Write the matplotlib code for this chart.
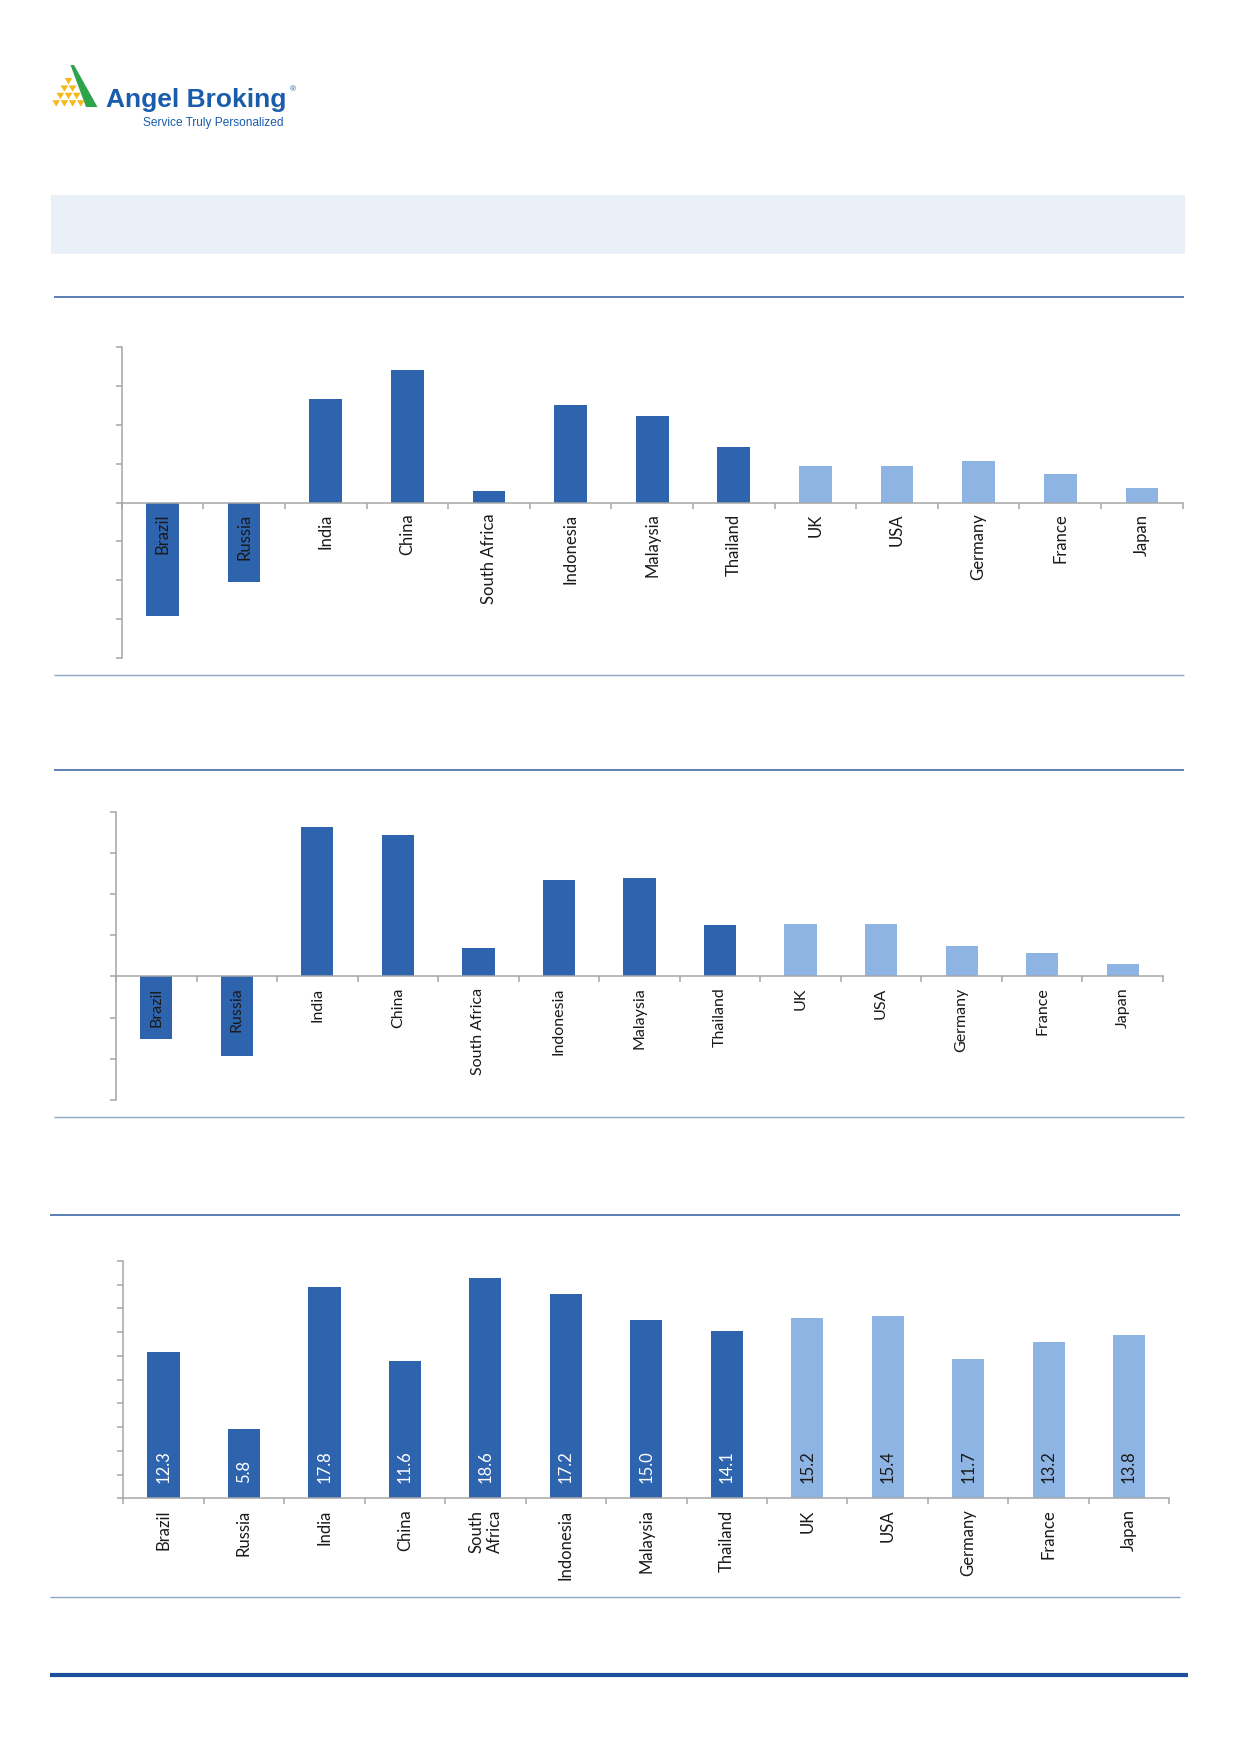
import matplotlib
matplotlib.use("Agg")
import matplotlib.pyplot as plt
import numpy as np
from matplotlib.patches import Polygon, Rectangle

plt.rcParams["font.family"] = ["Lato", "DejaVu Sans"]

# ---- data ----
countries = [
    "Brazil", "Russia", "India", "China", "South Africa", "Indonesia",
    "Malaysia", "Thailand", "UK", "USA", "Germany", "France", "Japan",
]
countries_wrapped = [c.replace("South Africa", "South\nAfrica") for c in countries]
developed = [False] * 8 + [True] * 5

chart1_values = [-14.6, -10.2, 13.3, 17.0, 1.5, 12.5, 11.1, 7.1, 4.7, 4.7, 5.3, 3.6, 1.8]
chart2_values = [-7.6, -9.7, 18.2, 17.2, 3.5, 11.7, 11.9, 6.2, 6.4, 6.4, 3.7, 2.8, 1.5]
chart3_values = [12.3, 5.8, 17.8, 11.6, 18.6, 17.2, 15.0, 14.1, 15.2, 15.4, 11.7, 13.2, 13.8]

chart1_ylim = (-20, 20, 5)
chart2_ylim = (-15, 20, 5)
chart3_ylim = (0, 20, 2)

# ---- styling ----
W, H = 1240, 1754
DARK = "#2E64AE"
LIGHT = "#8DB4E2"
AXIS_GRAY = "#A6A6A6"
RULE_BLUE = "#2F5E9E"
RULE_GRAY = "#8EA7C2"
LOGO_BLUE = "#1A5DAB"


def _frac(x0, y0, x1, y1):
    # pixel box (top-left origin) -> figure fraction rect
    return [x0 / W, 1 - y1 / H, (x1 - x0) / W, (y1 - y0) / H]


def _bar_chart(fig, rect, values, ylim, labels, fontsize=12, value_labels=False):
    ax = fig.add_axes(rect)
    n = len(values)
    x = np.arange(n)
    colors = [LIGHT if d else DARK for d in developed]
    ax.bar(x, values, width=0.4, color=colors, zorder=1)

    lo, hi, step = ylim
    ax.set_ylim(lo, hi)
    ax.set_yticks(np.arange(lo, hi + step / 2, step))
    ax.set_yticklabels([])
    ax.set_xlim(-0.5, n - 0.5)

    for side in ("top", "right"):
        ax.spines[side].set_visible(False)
    ax.spines["left"].set_color(AXIS_GRAY)
    ax.spines["left"].set_linewidth(1.1)
    ax.spines["bottom"].set_color(AXIS_GRAY)
    ax.spines["bottom"].set_linewidth(1.1)
    ax.spines["bottom"].set_position(("data", 0))
    ax.spines["bottom"].set_zorder(3)

    ax.set_xticks(x)
    ax.set_xticklabels(labels, rotation=90, fontsize=fontsize, color="#1a1a1a",
                       ha="center", va="top", multialignment="center")
    ax.set_xticks(np.arange(n + 1) - 0.5, minor=True)
    ax.tick_params(axis="x", which="major", length=0, pad=8)
    ax.tick_params(axis="x", which="minor", length=4, width=1.1,
                   color=AXIS_GRAY, direction="out")
    ax.tick_params(axis="y", length=4, width=1.1, color=AXIS_GRAY, direction="out")
    ax.patch.set_alpha(0)

    if value_labels:
        for i, v in enumerate(values):
            ax.text(i, 1.25, f"{v:.1f}", rotation=90, ha="center", va="bottom",
                    fontsize=12, color="#1a1a1a" if developed[i] else "white")
    return ax


fig = plt.figure(figsize=(W / 100, H / 100), dpi=100)

# page layer in pixel coordinates
page = fig.add_axes([0, 0, 1, 1], zorder=-1)
page.set_xlim(0, W)
page.set_ylim(H, 0)
page.axis("off")

# logo
page.add_patch(Polygon([(70.5, 65), (74, 65), (97.5, 107), (86, 107)],
                       closed=True, color="#2DA44A", lw=0))
for r in range(4):
    top = 78 + r * 7.4
    for k in range(r + 1):
        cx = 68.5 + (k - r / 2) * 8.2
        page.add_patch(Polygon([(cx - 3.8, top), (cx + 3.8, top), (cx, top + 6.4)],
                               closed=True, color="#F4B919", lw=0))
page.text(106, 107, "Angel Broking", fontsize=19, fontweight="bold",
          family=["Liberation Sans", "DejaVu Sans"], color=LOGO_BLUE, va="baseline")
page.text(290, 91, "®", fontsize=6, family=["Liberation Sans", "DejaVu Sans"],
          color=LOGO_BLUE, va="baseline")
page.text(143, 126, "Service Truly Personalized", fontsize=8.6,
          family=["Liberation Sans", "DejaVu Sans"], color=LOGO_BLUE, va="baseline")

# header band
page.add_patch(Rectangle((51, 195), 1134, 59, color="#EAF0F7", lw=0))

# rules
for y, x0, x1, col, lw in [
    (296.5, 54, 1184, RULE_BLUE, 1.1),
    (675, 54, 1184, RULE_GRAY, 1.0),
    (769.5, 54, 1184, RULE_BLUE, 1.1),
    (1117, 54, 1184, RULE_GRAY, 1.0),
    (1215, 50, 1180, RULE_BLUE, 1.1),
    (1597, 50, 1180, RULE_GRAY, 1.0),
    (1675, 50, 1188, "#1C4F9C", 3.0),
]:
    page.plot([x0, x1], [y, y], color=col, lw=lw, solid_capstyle="butt")

# charts
_bar_chart(fig, _frac(121.7, 346.7, 1182.7, 658.3), chart1_values, chart1_ylim, countries)
_bar_chart(fig, _frac(116, 811.7, 1163, 1100), chart2_values, chart2_ylim, countries,
           fontsize=11.5)
_bar_chart(fig, _frac(123.3, 1261, 1169.3, 1498.3), chart3_values, chart3_ylim,
           countries_wrapped, value_labels=True)

fig.savefig("out.png", dpi=100)
